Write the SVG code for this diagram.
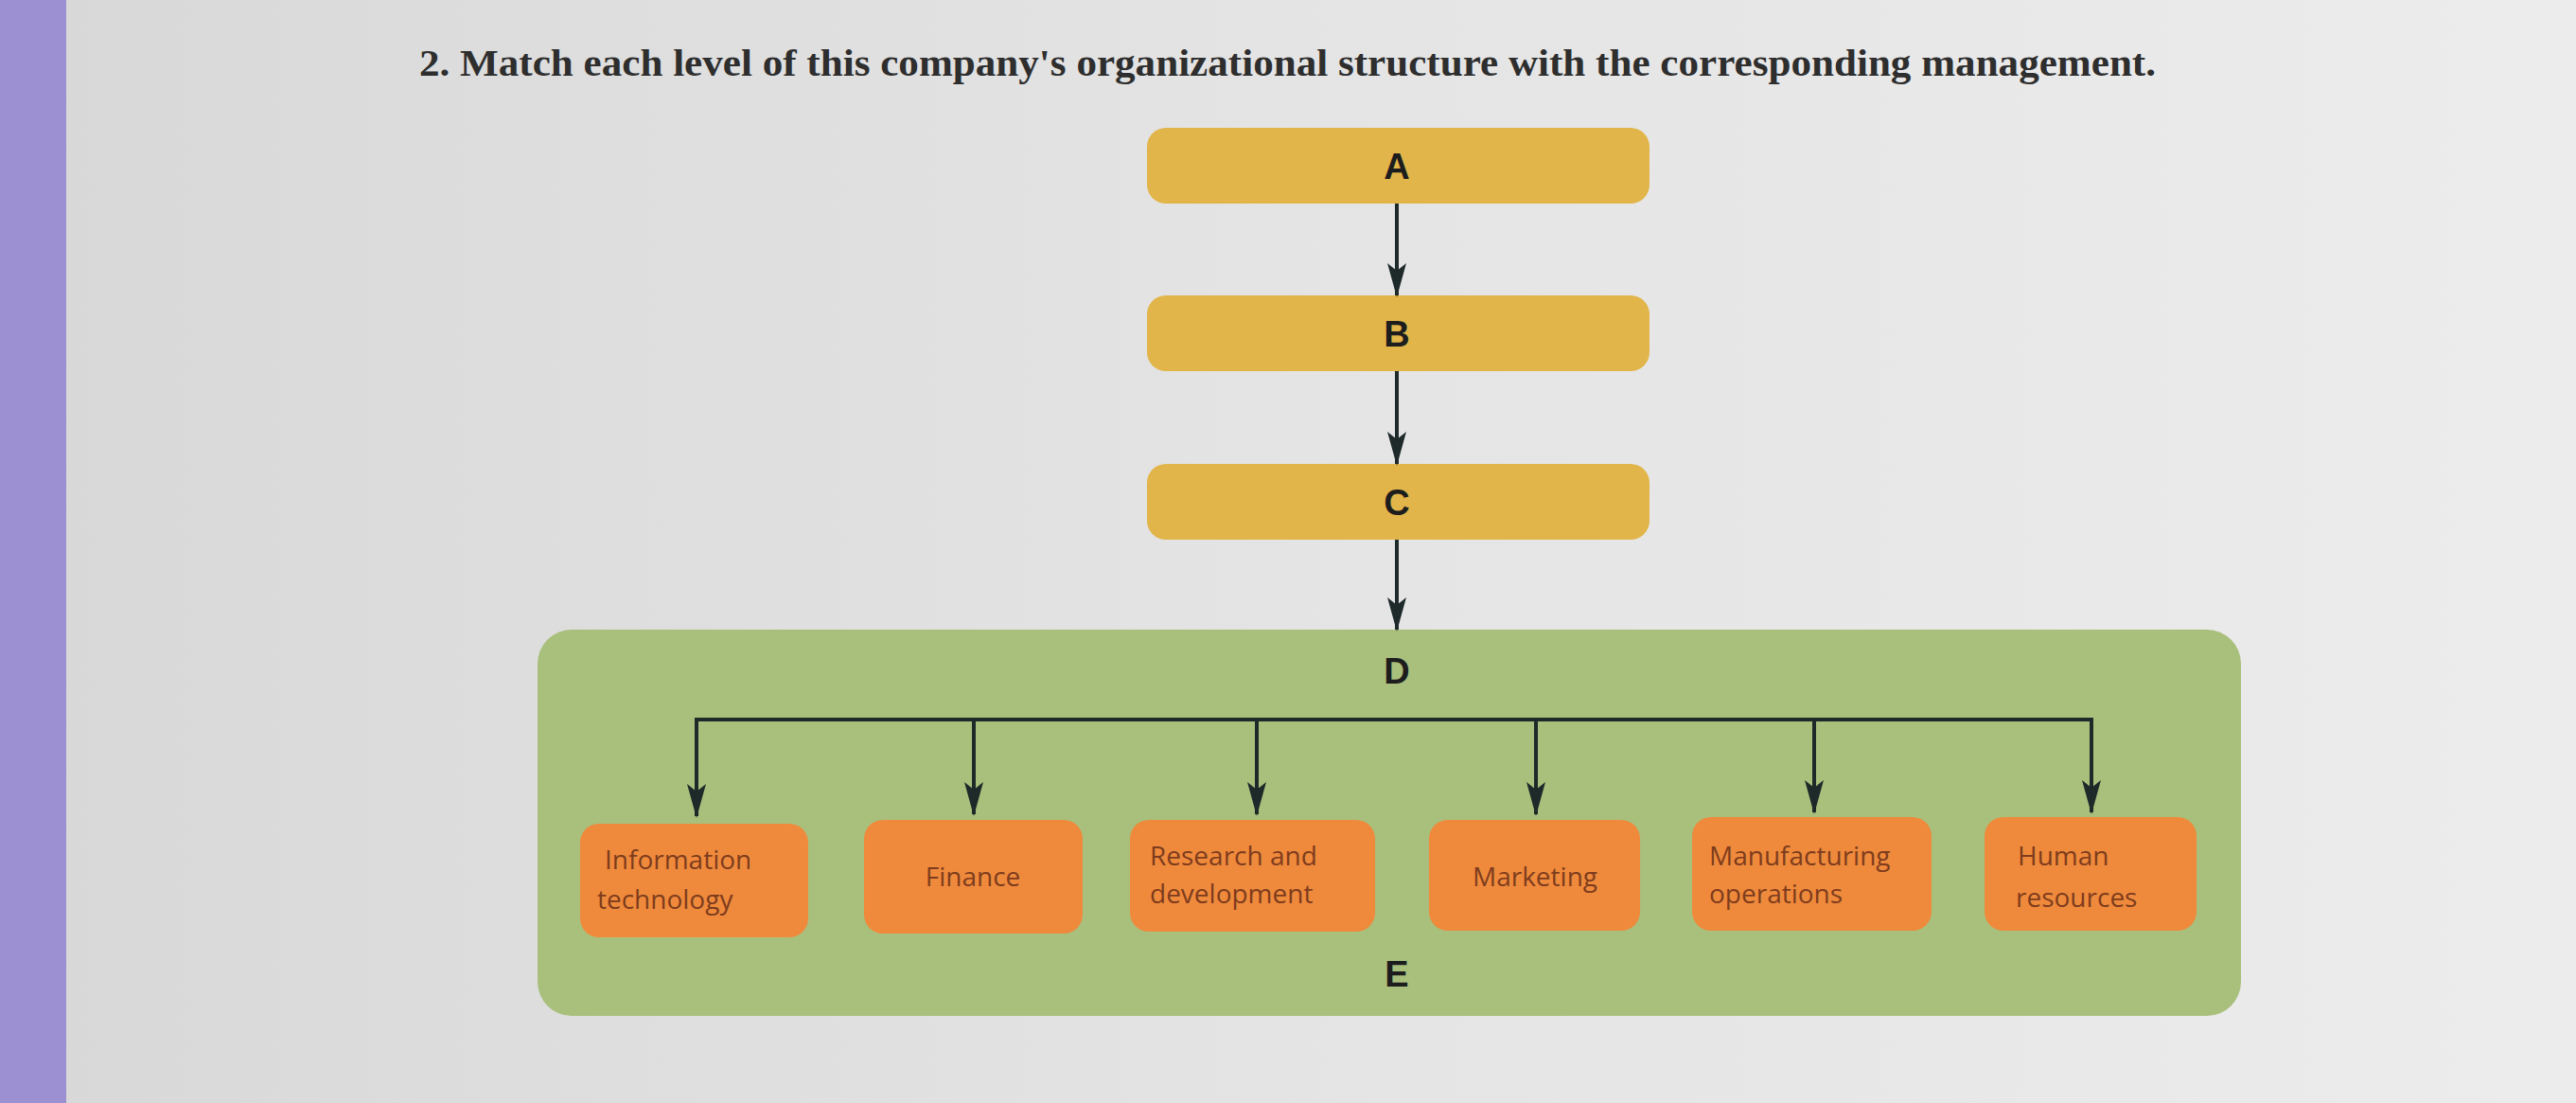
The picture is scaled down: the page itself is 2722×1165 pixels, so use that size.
<svg xmlns="http://www.w3.org/2000/svg" width="2722" height="1165" viewBox="0 0 2722 1165">
<defs>
<linearGradient id="bg" x1="0" y1="0" x2="1" y2="0">
<stop offset="0" stop-color="#d8d8d8"/>
<stop offset="0.5" stop-color="#e4e4e4"/>
<stop offset="1" stop-color="#ececec"/>
</linearGradient>
<marker id="ah2" markerWidth="36" markerHeight="20" refX="34" refY="10" orient="auto" markerUnits="userSpaceOnUse">
<path d="M0,0 L36,10 L0,20 L8,10 Z" fill="#1e2a2a"/>
</marker>
</defs>
<style>
.lvl{fill:#e2b54a;}
.org{fill:#ef8a3c;}
.grn{fill:#a9bf7c;}
.letter{font-family:"Liberation Sans",Arial,sans-serif;font-weight:bold;font-size:38px;fill:#1d1d1d;text-anchor:middle;}
.dept{font-family:"Open Sans","Liberation Sans",sans-serif;font-size:28px;fill:#7e3c1c;}
.mid{text-anchor:middle;}
.conn{stroke:#1e2a2a;stroke-width:4;fill:none;}
.title{font-family:"Liberation Serif","Times New Roman",serif;font-size:40px;font-weight:bold;fill:#2e2e2e;}
</style>
<rect x="0" y="0" width="2722" height="1165" fill="url(#bg)"/>
<rect x="0" y="0" width="70" height="1165" fill="#9c90d2"/>
<text class="title" x="443" y="80" textLength="1835" lengthAdjust="spacingAndGlyphs">2. Match each level of this company's organizational structure with the corresponding management.</text>

<g id="nodeE">
<rect class="grn" x="568" y="665" width="1800" height="408" rx="36"/>
<text class="letter" x="1476" y="1042">E</text>
</g>
<g id="nodeD">
<text class="letter" x="1476" y="722">D</text>
</g>
<g id="nodeA">
<rect class="lvl" x="1212" y="135" width="531" height="80" rx="20"/>
<text class="letter" x="1476" y="189">A</text>
</g>
<g id="nodeB">
<rect class="lvl" x="1212" y="312" width="531" height="80" rx="20"/>
<text class="letter" x="1476" y="366">B</text>
</g>
<g id="nodeC">
<rect class="lvl" x="1212" y="490" width="531" height="80" rx="20"/>
<text class="letter" x="1476" y="544">C</text>
</g>

<g id="connectors">
<line class="conn" x1="1476" y1="215" x2="1476" y2="312" marker-end="url(#ah2)"/>
<line class="conn" x1="1476" y1="392" x2="1476" y2="490" marker-end="url(#ah2)"/>
<line class="conn" x1="1476" y1="570" x2="1476" y2="665" marker-end="url(#ah2)"/>
<line class="conn" x1="734" y1="760" x2="2212" y2="760" stroke-width="5"/>
<line class="conn" x1="736" y1="758" x2="736" y2="862" marker-end="url(#ah2)"/>
<line class="conn" x1="1029" y1="760" x2="1029" y2="860" marker-end="url(#ah2)"/>
<line class="conn" x1="1328" y1="760" x2="1328" y2="860" marker-end="url(#ah2)"/>
<line class="conn" x1="1623" y1="760" x2="1623" y2="860" marker-end="url(#ah2)"/>
<line class="conn" x1="1917" y1="760" x2="1917" y2="858" marker-end="url(#ah2)"/>
<line class="conn" x1="2210" y1="758" x2="2210" y2="858" marker-end="url(#ah2)"/>
</g>

<g id="it">
<rect class="org" x="613" y="870" width="241" height="120" rx="20"/>
<text class="dept" x="639" y="918">Information</text>
<text class="dept" x="631" y="960">technology</text>
</g>
<g id="finance">
<rect class="org" x="913" y="866" width="231" height="120" rx="20"/>
<text class="dept mid" x="1028" y="936">Finance</text>
</g>
<g id="rd">
<rect class="org" x="1194" y="866" width="259" height="118" rx="20"/>
<text class="dept" x="1215" y="914">Research and</text>
<text class="dept" x="1215" y="954">development</text>
</g>
<g id="marketing">
<rect class="org" x="1510" y="866" width="223" height="117" rx="20"/>
<text class="dept mid" x="1622" y="936">Marketing</text>
</g>
<g id="manufacturing">
<rect class="org" x="1788" y="863" width="253" height="120" rx="20"/>
<text class="dept" x="1806" y="914">Manufacturing</text>
<text class="dept" x="1806" y="954">operations</text>
</g>
<g id="hr">
<rect class="org" x="2097" y="863" width="224" height="120" rx="20"/>
<text class="dept" x="2132" y="914">Human</text>
<text class="dept" x="2130" y="958">resources</text>
</g>
</svg>
